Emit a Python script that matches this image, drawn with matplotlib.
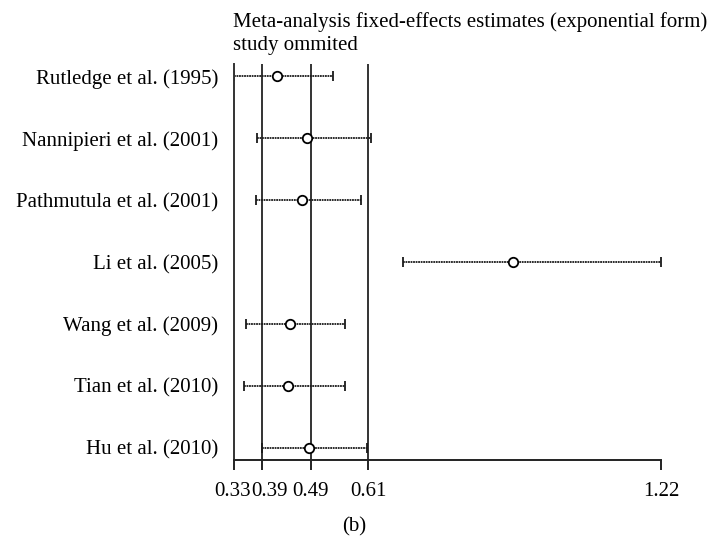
import numpy as np
import matplotlib
matplotlib.use("Agg")
import matplotlib.pyplot as plt
import matplotlib.transforms as mtransforms

plt.rcParams['font.family'] = ['Liberation Serif', 'DejaVu Serif']

studies = ["Rutledge et al. (1995)", "Nannipieri et al. (2001)", "Pathmutula et al. (2001)",
           "Li et al. (2005)", "Wang et al. (2009)", "Tian et al. (2010)", "Hu et al. (2010)"]
estimate = [0.421, 0.483, 0.472, 0.911, 0.447, 0.444, 0.486]
lower = [0.330, 0.379, 0.376, 0.682, 0.356, 0.351, 0.388]
upper = [0.537, 0.616, 0.595, 1.220, 0.561, 0.562, 0.608]
ref_lines = [0.39, 0.49, 0.61]
xticks = [0.33, 0.39, 0.49, 0.61, 1.22]

est = np.array(estimate)
lo = est - np.array(lower)
hi = np.array(upper) - est
ypos = np.arange(1, len(studies) + 1)

fig = plt.figure(figsize=(7.09, 5.38), dpi=100)
ax = fig.add_axes([0.3296, 0.145, 0.6027, 0.736])

for v in ref_lines:
    ax.axvline(v, color='#333333', lw=1.4, zorder=1)

eb = ax.errorbar(est, ypos, xerr=[lo, hi], fmt='none', ecolor='#1a1a1a', elinewidth=1.3,
                 capsize=3.8, capthick=1.3, zorder=2)
for lc in eb[2]:
    lc.set_linestyle((0, (1.0, 0.4)))
ax.plot(est, ypos, 'o', ms=6.8, mfc='white', mec='black', mew=1.3, ls='none', zorder=3)

ax.set_xlim(0.33, 1.22)
ax.set_ylim(7.2, 0.8)
ax.set_yticks(ypos)
ax.set_yticklabels(studies, fontsize=15)
ax.tick_params(axis='y', length=0, pad=11)
ax.set_xticks(xticks)
ax.set_xticklabels(["%.2f" % t for t in xticks], fontsize=15)
ax.tick_params(axis='x', direction='out', length=7, width=1.4, pad=9, color='#222222')

# nudge the two crowded labels apart, as in the original
shifts = {0: -1, 1: 7}
for i, lab in enumerate(ax.get_xticklabels()):
    if i in shifts:
        lab.set_transform(lab.get_transform() +
                          mtransforms.ScaledTranslation(shifts[i] / 100, 0, fig.dpi_scale_trans))

for s in ['top', 'right']:
    ax.spines[s].set_visible(False)
ax.spines['left'].set_color('#333333')
ax.spines['left'].set_linewidth(1.4)
ax.spines['bottom'].set_color('#222222')
ax.spines['bottom'].set_linewidth(1.4)

fig.text(233 / 709, 1 - 12 / 538, "Meta-analysis fixed-effects estimates (exponential form)\nstudy ommited",
         ha='left', va='top', fontsize=15, linespacing=1.3)
fig.text(0.5, 1 - 527 / 538, "(b)", ha='center', va='center', fontsize=15)

fig.savefig("out.png", dpi=100)
